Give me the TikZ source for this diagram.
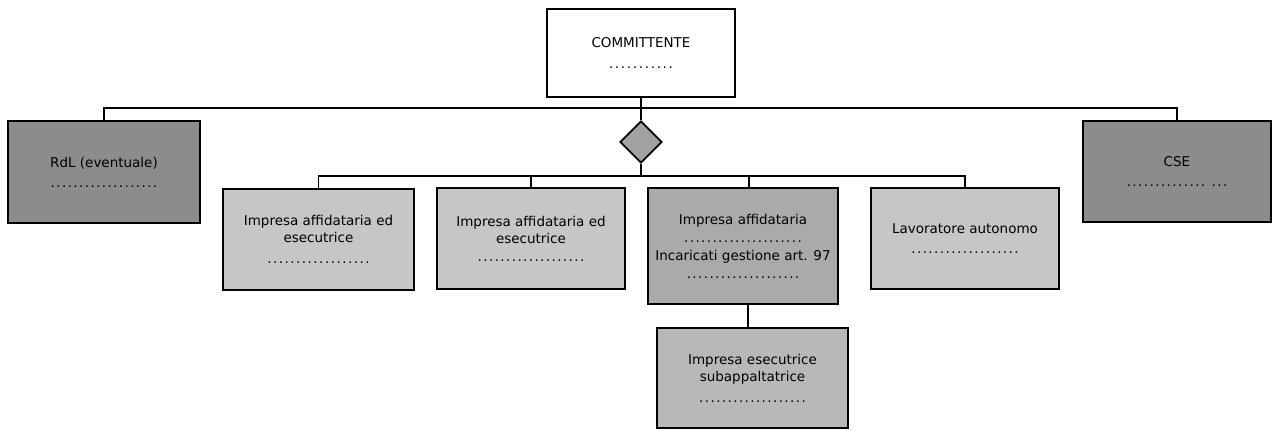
\documentclass[tikz,border=0pt]{standalone}
\usepackage{fontspec}
\setmainfont{DejaVu Sans}
\usetikzlibrary{shapes.geometric}
\definecolor{darkbox}{HTML}{8C8C8C}
\definecolor{lightbox}{HTML}{C6C6C6}
\definecolor{midbox}{HTML}{AAAAAA}
\definecolor{subbox}{HTML}{B8B8B8}
\definecolor{diafill}{HTML}{A2A2A2}
\newcommand\dotrule[1]{\leavevmode\hbox to #1{\xleaders\hbox to 5.6pt{\hss.\hss}\hfill}}
\tikzset{
  orgbox/.style={draw=black, line width=1.7pt, rectangle, inner sep=0pt, align=center,
    font=\fontsize{13.5pt}{17pt}\selectfont, text=black},
  conn/.style={draw=black, line width=1.7pt}
}
\begin{document}
\begin{tikzpicture}[x=1pt,y=-1pt]
\useasboundingbox (0,0) rectangle (1272,431);
\node[orgbox, fill=white, minimum width=188pt, minimum height=88pt] (comm) at (641,53)
  {COMMITTENTE\\[4pt]\dotrule{66pt}};
\node[draw=black, line width=1.7pt, fill=diafill, shape=diamond, aspect=1, minimum size=42pt, inner sep=0pt] (dia) at (641,142) {};
\node[orgbox, fill=darkbox, minimum width=192pt, minimum height=102pt] (rdl) at (104,172)
  {RdL (eventuale)\\[3pt]\dotrule{108pt}};
\node[orgbox, fill=darkbox, minimum width=188pt, minimum height=101pt] (cse) at (1177,171.5)
  {CSE\\[3pt]\dotrule{80pt}\hspace{5pt}\dotrule{17pt}};
\node[orgbox, fill=lightbox, minimum width=191pt, minimum height=101pt] (b1) at (318.5,239.5)
  {Impresa affidataria ed\\esecutrice\\[4pt]\dotrule{104pt}};
\node[orgbox, fill=lightbox, minimum width=188pt, minimum height=101pt] (b2) at (531,238.5)
  {Impresa affidataria ed\\esecutrice\\[1pt]\dotrule{108pt}};
\node[orgbox, fill=midbox, minimum width=190pt, minimum height=116pt] (b3) at (743,246)
  {Impresa affidataria\\[1pt]\dotrule{119pt}\\[1pt]Incaricati gestione art. 97\\[1pt]\dotrule{114pt}};
\node[orgbox, fill=lightbox, minimum width=188pt, minimum height=101pt] (b4) at (965,238.5)
  {Lavoratore autonomo\\[3pt]\dotrule{109pt}};
\node[orgbox, fill=subbox, minimum width=191pt, minimum height=100pt] (sub) at (752.5,378)
  {Impresa esecutrice\\subappaltatrice\\[4pt]\dotrule{108pt}};
\coordinate (top) at (641,108);
\coordinate (bus) at (641,176);
\draw[conn] (comm.south) -- (dia.north);
\draw[conn] (rdl.north) |- (top) -| (cse.north);
\draw[conn] (dia.south) -- (bus);
\draw[conn] (b1.north) |- (bus) -| (b4.north);
\draw[conn] (b2.north) -- (b2.north |- bus);
\draw[conn] ([xshift=6pt]b3.north) -- ([xshift=6pt]b3.north |- bus);
\draw[conn] ([xshift=5pt]b3.south) -- ([xshift=5pt]b3.south |- sub.north);
\end{tikzpicture}
\end{document}
